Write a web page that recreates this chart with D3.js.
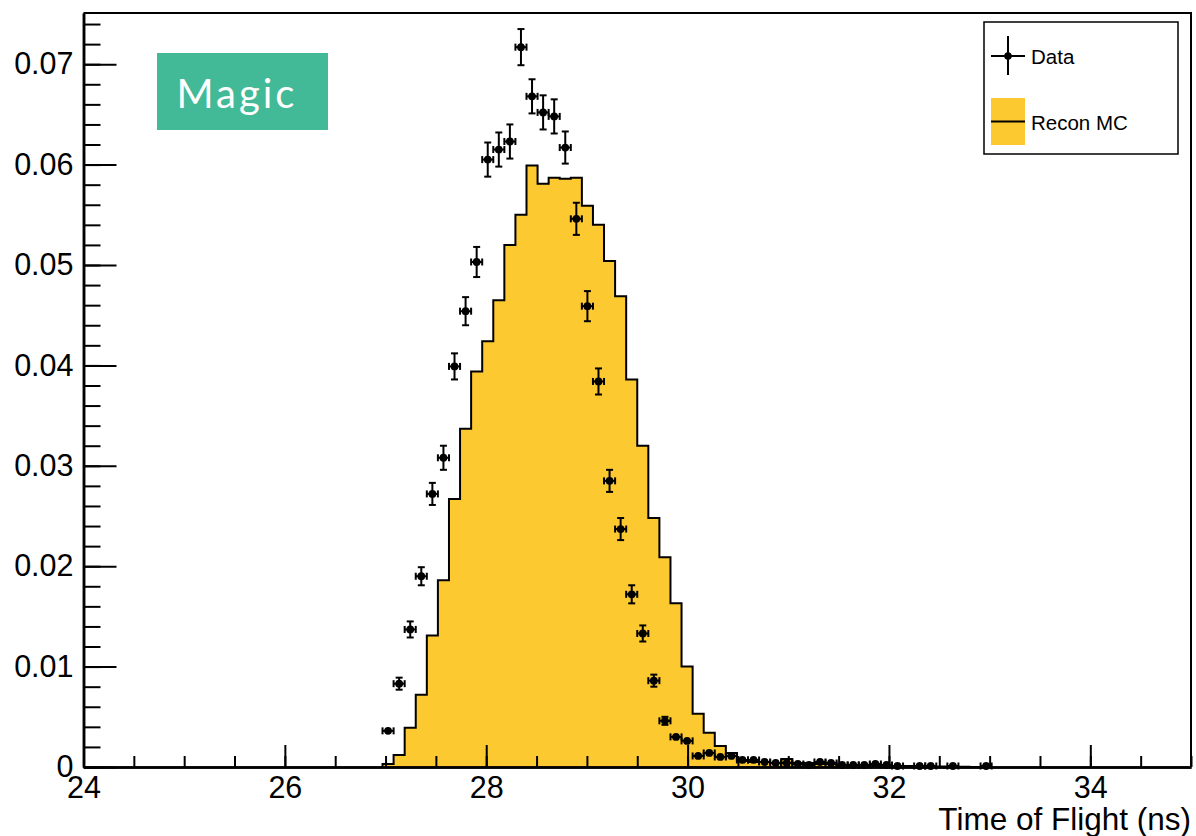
<!DOCTYPE html>
<html><head><meta charset="utf-8">
<script src="https://cdn.jsdelivr.net/npm/d3@7"></script>
<style>body{margin:0;background:#fff}svg{display:block}</style>
</head><body>
<svg id="c" width="1196" height="836"></svg>
<script>
// Histogram definition: 100 bins from 24 to 35 ns
const binLow = 24, binHigh = 35, nBins = 100;
const firstBin = 27; // index of first listed bin

// Recon MC (filled histogram), bins 27..80
const mcValues = [
  0.0003, 0.0012, 0.0039, 0.0072, 0.0131, 0.0186, 0.0267, 0.0337, 0.0394, 0.0424,
  0.0465, 0.0520, 0.0550, 0.0599, 0.0581, 0.0587, 0.0586, 0.0587, 0.0559, 0.0540,
  0.0504, 0.0469, 0.0386, 0.0320, 0.0248, 0.0209, 0.0163, 0.0100, 0.0053, 0.0034,
  0.0021, 0.0014, 0.0006, 0.0005, 0.0005, 0.0004, 0.0008, 0.0004, 0.0004, 0.0003,
  0.0003, 0.0002, 0.0002, 0.0002, 0.0002, 0.0001, 0.0001, 0.0001, 0.0001, 0.00005,
  0.00005, 0.00005, 0.00003, 0
];

// Data points (bins 27..81), null = empty bin
const dataValues = [
  0.0036, 0.0083, 0.0137, 0.0190, 0.0272, 0.0308, 0.0399, 0.0454, 0.0503, 0.0605,
  0.0615, 0.0623, 0.0717, 0.0668, 0.0652, 0.0648, 0.0617, 0.0546, 0.0459, 0.0384,
  0.0285, 0.0237, 0.0172, 0.0133, 0.0086, 0.0046, 0.0030, 0.0026, 0.0011, 0.0014,
  0.0010, 0.0011, 0.0007, 0.0007, 0.0005, 0.0004, 0.0004, 0.0003, 0.0002, 0.0005,
  0.0004, 0.0002, 0.0002, 0.0002, 0.0003, 0.0002, 0.0001, null, 0.0001, 0.0001,
  null, 0.0001, null, null, 0.0001
];
const dataErrors = [
  0.0003, 0.0006, 0.0008, 0.0009, 0.0011, 0.0012, 0.0013, 0.0014, 0.0015, 0.0017,
  0.0017, 0.0017, 0.0018, 0.0017, 0.0017, 0.0017, 0.0016, 0.0016, 0.0015, 0.0013,
  0.0011, 0.0011, 0.0009, 0.0008, 0.0006, 0.0004, 0.0003, 0.0003, 0.0002, 0.0002,
  0.0002, 0.0002, 0.0001, 0.0001, 0.0001, 0.0001, 0.0001, 0.0001, 0.0001, 0.0001,
  0.0001, 0.0001, 0.0001, 0.0001, 0.0001, 0.0001, 0.0001, null, 0.0001, 0.0001,
  null, 0.0001, null, null, 0.0001
];

const xMajorTicks = [24, 26, 28, 30, 32, 34];
const xMinorTicks = d3.range(24, 35.01, 0.5);
const yMajorTicks = [0, 0.01, 0.02, 0.03, 0.04, 0.05, 0.06, 0.07];
const yTickLabels = ["0", "0.01", "0.02", "0.03", "0.04", "0.05", "0.06", "0.07"];
const yMinorTicks = d3.range(0, 0.0751, 0.002);
const xTitle = "Time of Flight (ns)";
const legendLabels = ["Data", "Recon MC"];
const badgeText = "Magic";

const yMax = 0.0751;
const L = 83.5, R = 1191, T = 13, B = 767;
const FILL = "#fdc931";
const FONT = "'Liberation Sans', Arial, Helvetica, sans-serif";

const svg = d3.select("#c");
const x = d3.scaleLinear().domain([binLow, binHigh]).range([L, R]);
const y = d3.scaleLinear().domain([0, yMax]).range([B, T]);
const bw = (binHigh - binLow) / nBins;
const edge = k => binLow + k * bw;

// --- MC histogram
const pts = [];
pts.push([x(edge(firstBin)), y(0)]);
mcValues.forEach((v, i) => {
  const k = firstBin + i;
  pts.push([x(edge(k)), y(v)]);
  pts.push([x(edge(k + 1)), y(v)]);
});
pts.push([x(edge(firstBin + mcValues.length)), y(0)]);
svg.append("path").attr("d", d3.line()(pts))
  .attr("fill", FILL).attr("stroke", "#000").attr("stroke-width", 2)
  .attr("stroke-linejoin", "miter");

// --- Axes
const gx = svg.append("g").attr("transform", `translate(0,${B})`);
gx.call(d3.axisBottom(x).tickValues(xMinorTicks).tickSize(-11).tickSizeOuter(0).tickFormat(""));
gx.append("g").call(d3.axisBottom(x).tickValues(xMajorTicks).tickSize(-22).tickSizeOuter(0).tickPadding(9).tickFormat(d3.format("d")));
const gy = svg.append("g").attr("transform", `translate(${L},0)`);
gy.call(d3.axisLeft(y).tickValues(yMinorTicks).tickSize(-17).tickSizeOuter(0).tickFormat(""));
gy.append("g").call(d3.axisLeft(y).tickValues(yMajorTicks).tickSize(-33).tickSizeOuter(0).tickPadding(10)
  .tickFormat((d, i) => yTickLabels[i]));
svg.selectAll(".domain").attr("stroke", "#000").attr("stroke-width", 2.5);
svg.selectAll(".tick line").attr("stroke", "#000").attr("stroke-width", 2);
svg.selectAll(".tick text").attr("font-family", FONT).attr("font-size", 30.5).attr("fill", "#000");

// frame top & right
svg.append("path").attr("d", `M${L},${T}H${R}V${B}`).attr("fill", "none")
  .attr("stroke", "#000").attr("stroke-width", 2);

// axis title
svg.append("text").attr("x", R).attr("y", 830).attr("text-anchor", "end")
  .attr("font-family", FONT).attr("font-size", 31.5).text(xTitle);

// --- Data points with error bars
const dataG = svg.append("g");
const mr = 3.9, cap = 3.5;
dataValues.forEach((v, i) => {
  if (v === null) return;
  const k = firstBin + i;
  const cx = x(edge(k) + bw / 2), cy = y(v);
  const xl = x(edge(k)), xr = x(edge(k + 1));
  const e = dataErrors[i] || 0;
  const yt = y(v + e), yb = y(v - e);
  const g = dataG.append("g").attr("stroke", "#000").attr("stroke-width", 2);
  // horizontal
  g.append("line").attr("x1", xl).attr("x2", xr).attr("y1", cy).attr("y2", cy);
  g.append("line").attr("x1", xl).attr("x2", xl).attr("y1", cy - cap).attr("y2", cy + cap);
  g.append("line").attr("x1", xr).attr("x2", xr).attr("y1", cy - cap).attr("y2", cy + cap);
  if (cy - yt > mr) {
    g.append("line").attr("x1", cx).attr("x2", cx).attr("y1", yt).attr("y2", yb);
    g.append("line").attr("x1", cx - cap).attr("x2", cx + cap).attr("y1", yt).attr("y2", yt);
    g.append("line").attr("x1", cx - cap).attr("x2", cx + cap).attr("y1", yb).attr("y2", yb);
  }
  dataG.append("circle").attr("cx", cx).attr("cy", cy).attr("r", mr).attr("fill", "#000");
});

// --- Legend
const lg = svg.append("g");
lg.append("rect").attr("x", 984).attr("y", 22).attr("width", 194).attr("height", 132)
  .attr("fill", "#fff").attr("stroke", "#000").attr("stroke-width", 1.5);
lg.append("line").attr("x1", 991).attr("x2", 1025).attr("y1", 56).attr("y2", 56).attr("stroke", "#000").attr("stroke-width", 2);
lg.append("line").attr("x1", 1008).attr("x2", 1008).attr("y1", 36).attr("y2", 75).attr("stroke", "#000").attr("stroke-width", 2);
lg.append("circle").attr("cx", 1008).attr("cy", 56).attr("r", 3.8).attr("fill", "#000");
lg.append("rect").attr("x", 991).attr("y", 98).attr("width", 34).attr("height", 47).attr("fill", FILL);
lg.append("line").attr("x1", 991).attr("x2", 1025).attr("y1", 121.5).attr("y2", 121.5).attr("stroke", "#000").attr("stroke-width", 2);
lg.selectAll("text.lt").data(legendLabels).enter().append("text")
  .attr("x", 1031).attr("y", (d, i) => i === 0 ? 63.5 : 129.5)
  .attr("font-family", FONT).attr("font-size", 20.5).attr("fill", "#000").text(d => d);

// --- Magic badge
svg.append("rect").attr("x", 157).attr("y", 53).attr("width", 171).attr("height", 77).attr("fill", "#43ba97");
svg.append("text").attr("x", 237).attr("y", 108).attr("text-anchor", "middle")
  .attr("font-family", "Lato, 'Noto Sans', sans-serif").attr("font-size", 40)
  .attr("letter-spacing", 3).attr("fill", "#fff").text(badgeText);
</script>
</body></html>
